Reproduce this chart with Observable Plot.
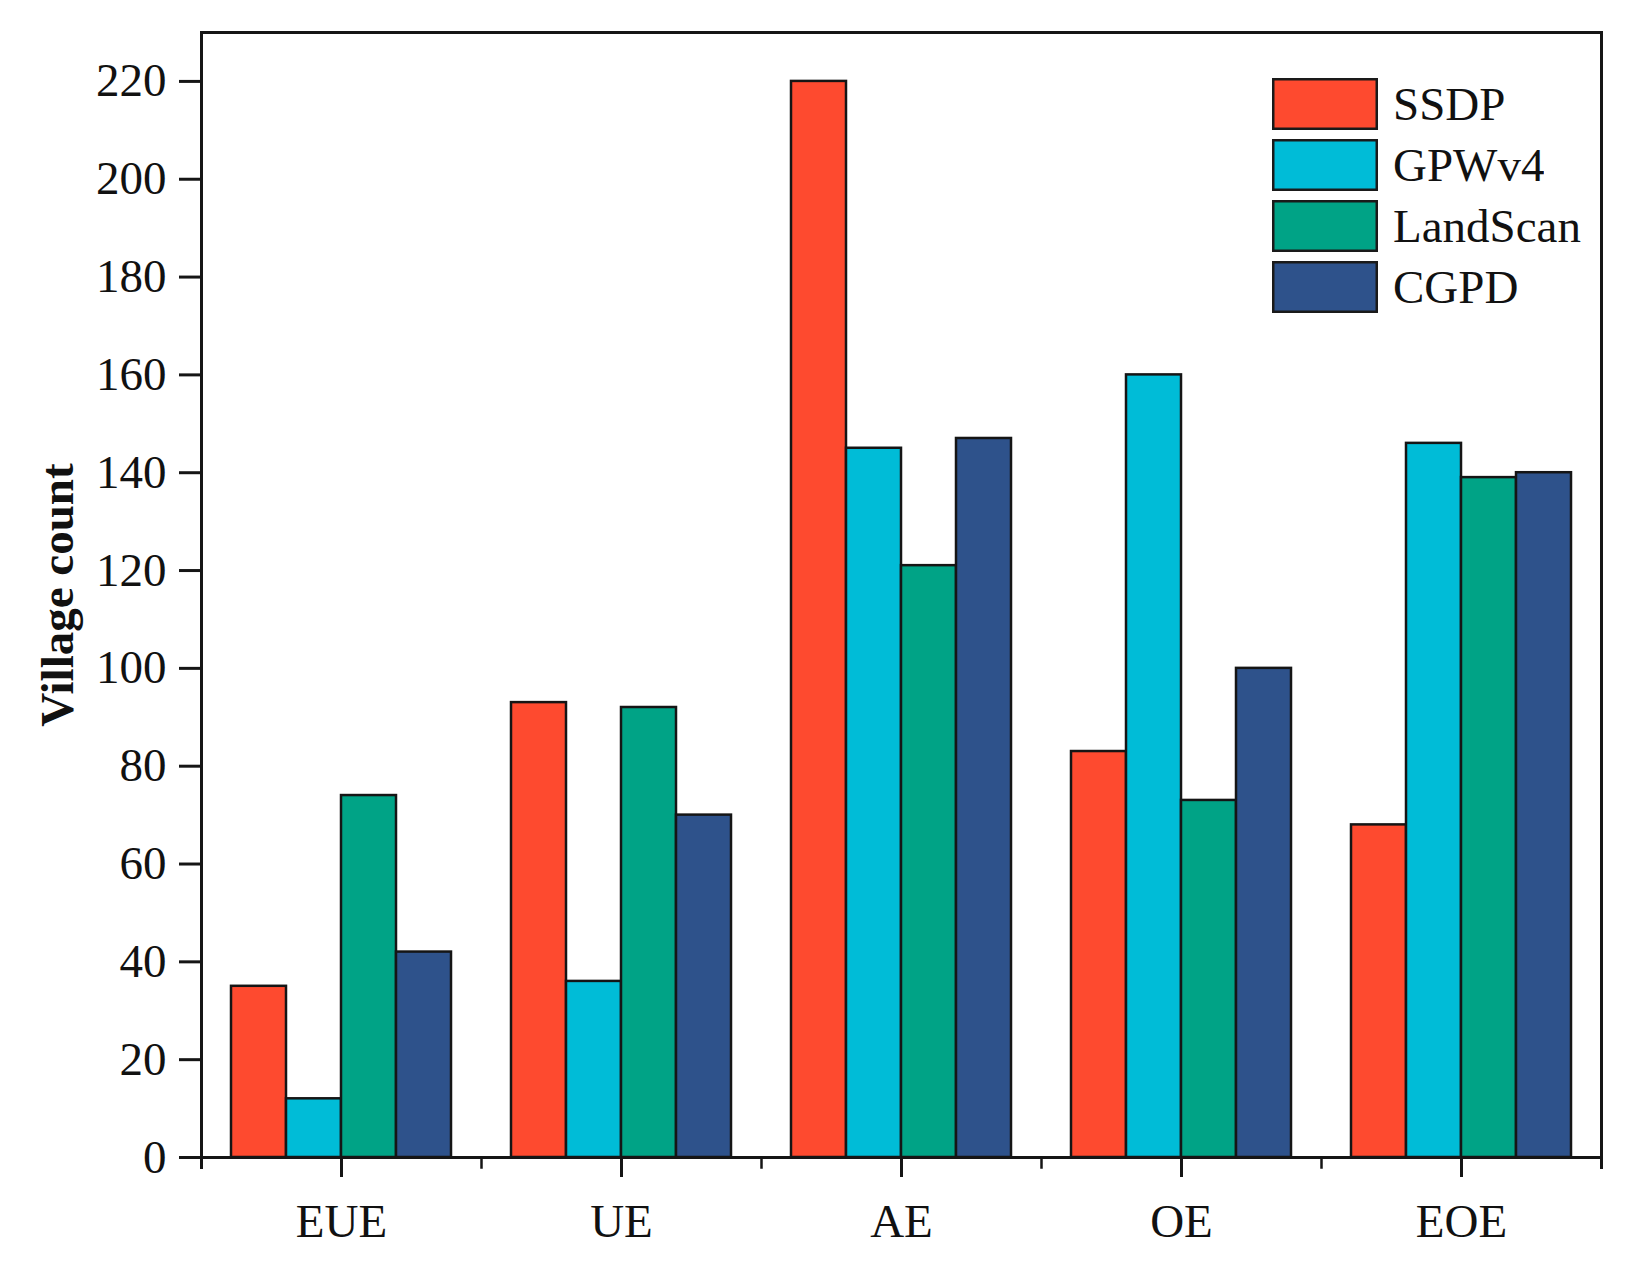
<!DOCTYPE html>
<html>
<head>
<meta charset="utf-8">
<script src="https://cdn.jsdelivr.net/npm/d3@7"></script>
<script src="https://cdn.jsdelivr.net/npm/@observablehq/plot@0.6"></script>
<style>
  html, body { margin: 0; padding: 0; background: #fff; }
  #wrap { position: relative; width: 1630px; height: 1265px; }
  #legend { position: absolute; left: 1272px; top: 77px; }
  #legend svg { margin-right: 15px !important; overflow: visible; }
  #legend rect { stroke: #1a1a1a; stroke-width: 2.5px; x: 1.25px; y: 1.25px; width: calc(100% - 2.5px); height: calc(100% - 2.5px); }
  #legend > div > div { padding-bottom: 7px; margin: 0; }
</style>
</head>
<body>
<div id="wrap"><div id="chart"></div><div id="legend"></div></div>
<script>
const groups = ["EUE", "UE", "AE", "OE", "EOE"];
const series = ["SSDP", "GPWv4", "LandScan", "CGPD"];
const colors = ["#FE4A2F", "#00BCD7", "#00A386", "#2E528B"];
const SSDP = [35, 93, 220, 83, 68];
const GPWv4 = [12, 36, 145, 160, 146];
const LandScan = [74, 92, 121, 73, 139];
const CGPD = [42, 70, 147, 100, 140];
const yTicks = [0, 20, 40, 60, 80, 100, 120, 140, 160, 180, 200, 220];

const valuesBySeries = {SSDP, GPWv4, LandScan, CGPD};
const data = [];
groups.forEach((g, i) => series.forEach(s => data.push({group: g, series: s, value: valuesBySeries[s][i]})));

const font = "'Liberation Serif', 'Times New Roman', serif";

const chart = Plot.plot({
  width: 1630,
  height: 1265,
  marginLeft: 201,
  marginRight: 29,
  marginTop: 32,
  marginBottom: 108,
  style: {fontFamily: font, fontSize: "47px", background: "#fff", color: "#111"},
  fx: {domain: groups, padding: 0, label: null},
  x: {domain: series, paddingInner: 0, paddingOuter: 0.513, axis: null},
  y: {domain: [0, 230], label: null},
  color: {domain: series, range: colors},
  marks: [
    Plot.barY(data, {fx: "group", x: "series", y: "value", fill: "series", stroke: "#151515", strokeWidth: 2.5}),
    Plot.frame({anchor: "top", strokeWidth: 3, stroke: "#151515"}),
    Plot.frame({anchor: "bottom", strokeWidth: 3, stroke: "#151515"}),
    Plot.frame({anchor: "left", facetAnchor: "left", strokeWidth: 3, stroke: "#151515", insetBottom: -10}),
    Plot.frame({anchor: "right", facetAnchor: "right", strokeWidth: 3, stroke: "#151515", insetBottom: -10}),
    Plot.frame({anchor: "left", strokeWidth: 2.5, stroke: "#151515", insetTop: 1125, insetBottom: -10}),
    Plot.axisY({ticks: yTicks, tickSize: 22, tickPadding: 13, strokeWidth: 3, stroke: "#151515", fontSize: 47, label: null}),
    Plot.axisY({ticks: [], tickSize: 0, label: "Village count", labelAnchor: "center", labelOffset: 162, labelArrow: "none", fontWeight: "bold", fontSize: 47}),
    Plot.axisFx({anchor: "bottom", tickSize: 20, tickPadding: 26, strokeWidth: 3, stroke: "#151515", fontSize: 47, label: null})
  ]
});
document.getElementById("chart").appendChild(chart);

const legend = Plot.legend({
  color: {domain: series, range: colors},
  legend: "swatches",
  columns: 1,
  swatchWidth: 106,
  swatchHeight: 52,
  style: {fontFamily: font, fontSize: "47px", color: "#111", margin: "0"}
});
document.getElementById("legend").appendChild(legend);
</script>
</body>
</html>
